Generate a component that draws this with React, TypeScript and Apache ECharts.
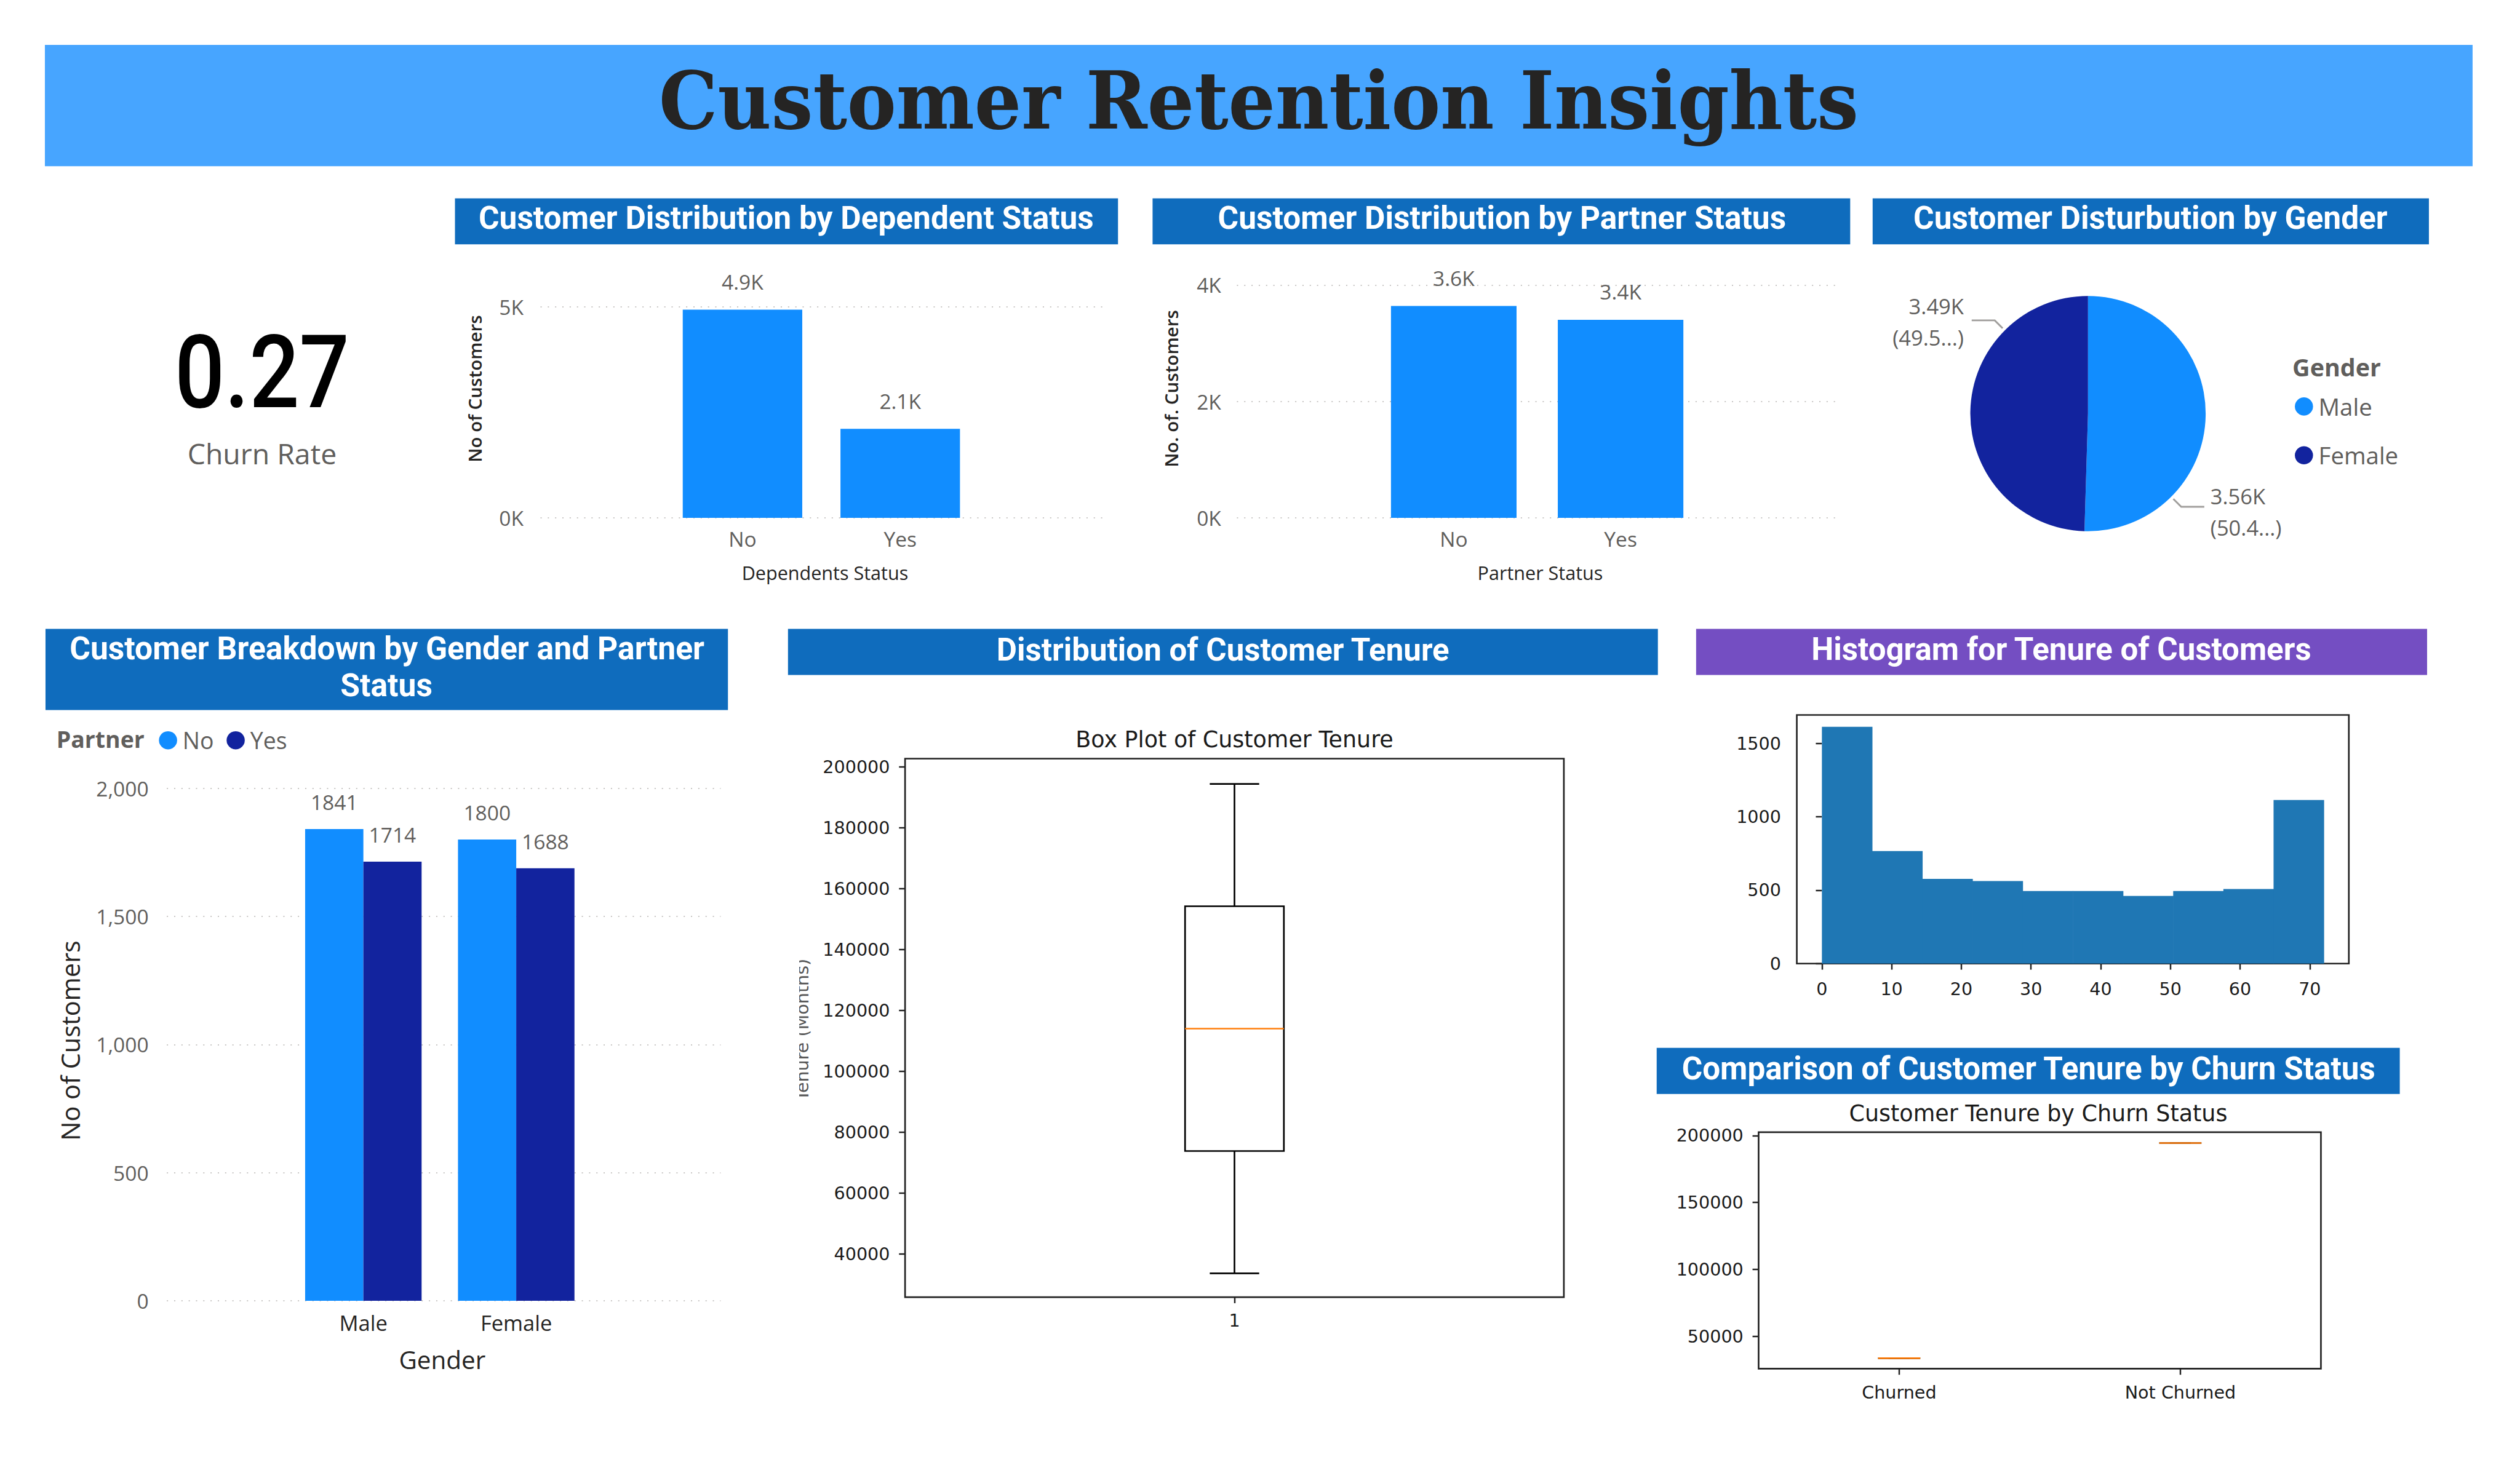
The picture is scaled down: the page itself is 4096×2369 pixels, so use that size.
import React, { useEffect, useRef } from 'react';
import * as echarts from 'echarts';

const S = 0.986;
const s = (v: number) => v * S;

// ---------------- Data ----------------
const churnRate = 0.27;
const dependentCategories = ['No', 'Yes'];
const dependentCounts = [4933, 2110];
const partnerCategories = ['No', 'Yes'];
const partnerCounts = [3641, 3402];
const genderNames = ['Male', 'Female'];
const genderCounts = [3555, 3488];
const genderCategories = ['Male', 'Female'];
const partnerNoByGender = [1841, 1800];
const partnerYesByGender = [1714, 1688];
const tenureBoxStats = [33600, 73800, 114000, 154200, 194400]; // min, q1, median, q3, max
const churnCategories = ['Churned', 'Not Churned'];
const churnTenureTotals = [33600, 194400];
const histEdges = [0, 7.2, 14.4, 21.6, 28.8, 36, 43.2, 50.4, 57.6, 64.8, 72];
const histCounts = [1612, 766, 577, 562, 494, 494, 461, 494, 508, 1114];
const histXTicks = [0, 10, 20, 30, 40, 50, 60, 70];
const histYTicks = [0, 500, 1000, 1500];
const tenureYTicks = [40000, 60000, 80000, 100000, 120000, 140000, 160000, 180000, 200000];
const churnYTicks = [50000, 100000, 150000, 200000];

// ---------------- Styles ----------------
const PBI = '"Segoe UI", "Open Sans", sans-serif';
const DIN = 'Roboto, sans-serif';
const MPL = '"DejaVu Sans", sans-serif';
const SERIF = '"DejaVu Serif", serif';
const C_LIGHT = '#118DFF';
const C_DARK = '#12239E';
const C_HEADER = '#47A5FF';
const C_BAR = '#0F6CBD';
const C_PURPLE = '#744EC2';
const C_GRAY = '#605E5C';
const C_TEXT = '#252423';
const C_GRID = '#C8C6C4';
const C_MPL = '#1a1a1a';

let measureCtx: CanvasRenderingContext2D | null = null;
function fit(text: string, font: string, target: number) {
  if (!measureCtx) measureCtx = document.createElement('canvas').getContext('2d');
  if (!measureCtx) return 1;
  measureCtx.font = font;
  const w = measureCtx.measureText(text).width;
  return w > 0 ? target / w : 1;
}

type TxtOpts = {
  family: string; weight?: string | number; color: string; align?: string;
  target?: number; scale?: number; rotation?: number; z?: number;
};
function txt(text: string, cx: number, cy: number, size: number, o: TxtOpts) {
  const weight = o.weight ?? 'normal';
  const font = `${weight} ${s(size)}px ${o.family}`;
  let scaleX = o.scale ?? 1;
  if (o.target) scaleX = fit(text, font, s(o.target));
  const align = o.align ?? 'center';
  return {
    type: 'text', x: s(cx), y: s(cy), rotation: o.rotation ?? 0, scaleX, scaleY: 1,
    z: o.z ?? 10, silent: true,
    style: {
      text, x: 0, y: 0, fill: o.color, font,
      align, verticalAlign: 'middle', textAlign: align, textVerticalAlign: 'middle',
    },
  };
}
function rect(x: number, y: number, w: number, h: number, fill: string, z = 5) {
  return { type: 'rect', z, silent: true, shape: { x: s(x), y: s(y), width: s(w), height: s(h) }, style: { fill } };
}
function titleBar(text: string, x: number, y: number, w: number, h: number, cx: number, cy: number, target: number, fill = C_BAR) {
  return [rect(x, y, w, h, fill), txt(text, cx, cy, 52, { family: DIN, weight: 'bold', color: '#fff', target })];
}

const gridLine = { show: true, lineStyle: { color: C_GRID, width: s(2), type: [s(2), s(10)] } };
const pbiAxisLabel = { color: C_GRAY, fontSize: s(34), fontFamily: PBI };
const mplTick = (values: number[]) => ({ show: true, inside: false, length: s(10), customValues: values, lineStyle: { color: '#222', width: s(2.5) } });
const mplLabel = (values: number[], margin: number, formatter?: (v: number) => string) => ({
  customValues: values, margin: s(margin), color: C_MPL, fontSize: s(29), fontFamily: MPL,
  ...(formatter ? { formatter } : {}),
});

function boxRender(_params: any, api: any) {
  const x = api.value(0);
  const lo = api.value(1), q1 = api.value(2), med = api.value(3), q3 = api.value(4), hi = api.value(5);
  const hw = 0.075, cw = 0.0375;
  const c = (a: number, b: number) => api.coord([a, b]);
  const line = (p1: number[], p2: number[], color: string) => ({
    type: 'line', shape: { x1: p1[0], y1: p1[1], x2: p2[0], y2: p2[1] },
    style: { stroke: color, lineWidth: s(2.7) },
  });
  const tl = c(x - hw, q3), br = c(x + hw, q1);
  return {
    type: 'group',
    children: [
      line(c(x, q3), c(x, hi), '#000'),
      line(c(x, q1), c(x, lo), '#000'),
      line(c(x - cw, hi), c(x + cw, hi), '#000'),
      line(c(x - cw, lo), c(x + cw, lo), '#000'),
      { type: 'rect', shape: { x: tl[0], y: tl[1], width: br[0] - tl[0], height: br[1] - tl[1] }, style: { fill: 'none', stroke: '#000', lineWidth: s(2.7) } },
      line(c(x - hw, med), c(x + hw, med), '#FF7F0E'),
    ],
  };
}

function histRender(_params: any, api: any) {
  const a = api.coord([api.value(0), api.value(2)]);
  const b = api.coord([api.value(1), 0]);
  return { type: 'rect', shape: { x: a[0], y: a[1], width: b[0] - a[0] + 0.6, height: b[1] - a[1] }, style: { fill: '#1F77B4' } };
}

const PIE_CX = 3442, PIE_CY = 682, PIE_R = 194;

function buildOption() {
  const kpiTxt = churnRate.toFixed(2);
  const gpScale = fit('Customer Breakdown by Gender and Partner', `bold ${s(52)}px ${DIN}`, s(1047));

  const graphic: any[] = [
    rect(74, 74, 4002, 200, C_HEADER, 1),
    txt('Customer Retention Insights', 2075, 166, 131, { family: SERIF, weight: 'bold', color: C_TEXT, target: 1977 }),
    txt(kpiTxt, 432, 614, 168, { family: DIN, weight: 500, color: '#000', target: 288 }),
    txt('Churn Rate', 432, 747, 47, { family: PBI, color: C_GRAY, target: 246 }),
    ...titleBar('Customer Distribution by Dependent Status', 750, 327, 1093, 76, 1296, 360, 1014),
    ...titleBar('Customer Distribution by Partner Status', 1900, 327, 1150, 76, 2476, 360, 937),
    ...titleBar('Customer Disturbution by Gender', 3087, 327, 917, 76, 3545, 360, 782),
    rect(75, 1037, 1125, 134, C_BAR),
    txt('Customer Breakdown by Gender and Partner', 638, 1070, 52, { family: DIN, weight: 'bold', color: '#fff', scale: gpScale }),
    txt('Status', 637, 1130, 52, { family: DIN, weight: 'bold', color: '#fff', scale: gpScale }),
    ...titleBar('Distribution of Customer Tenure', 1299, 1037, 1434, 76, 2016, 1071, 748),
    ...titleBar('Histogram for Tenure of Customers', 2796, 1037, 1205, 76, 3398, 1070, 825, C_PURPLE),
    ...titleBar('Comparison of Customer Tenure by Churn Status', 2731, 1728, 1225, 76, 3344, 1762, 1144),
    // axis titles
    txt('No of Customers', 782, 641, 30, { family: PBI, weight: 600, color: C_TEXT, rotation: Math.PI / 2 }),
    txt('Dependents Status', 1360, 944, 31, { family: PBI, color: C_TEXT }),
    txt('No. of. Customers', 1931, 641, 30, { family: PBI, weight: 600, color: C_TEXT, rotation: Math.PI / 2 }),
    txt('Partner Status', 2539, 944, 31, { family: PBI, color: C_TEXT }),
    txt('No of Customers', 116, 1716, 42, { family: PBI, color: C_TEXT, rotation: Math.PI / 2 }),
    txt('Gender', 729, 2242, 41, { family: PBI, color: C_TEXT }),
    // legend titles
    txt('Partner', 93, 1219, 38, { family: PBI, weight: 'bold', color: C_GRAY, align: 'left' }),
    txt('Gender', 3779, 605, 40, { family: PBI, weight: 'bold', color: C_GRAY, align: 'left' }),
    // matplotlib titles
    txt('Box Plot of Customer Tenure', 2035, 1220, 37, { family: MPL, color: C_MPL }),
    txt('Customer Tenure by Churn Status', 3360, 1836, 37, { family: MPL, color: C_MPL }),
    txt('Tenure (Months)', 1323, 1698, 29, { family: MPL, color: '#555', rotation: Math.PI / 2, z: 10 }),
    rect(1280, 1550, 37.5, 300, '#ffffff', 20),
  ];

  const grids = [
    { left: s(891), top: s(506), width: s(927), height: s(348) },
    { left: s(1094), top: s(506), width: s(520), height: s(348) },
    { left: s(2039), top: s(470), width: s(992), height: s(384) },
    { left: s(2259), top: s(470), width: s(550), height: s(384) },
    { left: s(275), top: s(1300), width: s(913), height: s(845) },
    { left: s(473), top: s(1300), width: s(504), height: s(845) },
    { left: s(1492), top: s(1251), width: s(1086), height: s(888), show: true, borderColor: '#222', borderWidth: s(2.7), backgroundColor: 'transparent' },
    { left: s(2962), top: s(1179), width: s(910), height: s(410), show: true, borderColor: '#222', borderWidth: s(2.7), backgroundColor: 'transparent' },
    { left: s(2899), top: s(1867), width: s(927), height: s(390), show: true, borderColor: '#222', borderWidth: s(2.7), backgroundColor: 'transparent' },
  ];

  const hiddenCat = (gridIndex: number) => ({ gridIndex, type: 'category', data: [''], show: false });
  const pbiCat = (gridIndex: number, data: string[], label: any) => ({
    gridIndex, type: 'category', data, axisLine: { show: false }, axisTick: { show: false }, axisLabel: label, splitLine: { show: false },
  });
  const hiddenVal = (gridIndex: number, min: number, max: number) => ({ gridIndex, type: 'value', min, max, show: false, splitLine: { show: false } });
  const pbiVal = (gridIndex: number, min: number, max: number, interval: number, formatter: (v: number) => string, margin: number) => ({
    gridIndex, type: 'value', min, max, interval, axisLine: { show: false }, axisTick: { show: false },
    splitLine: gridLine, axisLabel: { ...pbiAxisLabel, formatter, margin: s(margin) },
  });

  const xAxis = [
    hiddenCat(0),
    pbiCat(1, dependentCategories, { ...pbiAxisLabel, margin: s(17) }),
    hiddenCat(2),
    pbiCat(3, partnerCategories, { ...pbiAxisLabel, margin: s(17) }),
    hiddenCat(4),
    pbiCat(5, genderCategories, { color: C_TEXT, fontSize: s(35), fontFamily: PBI, margin: s(18) }),
    { gridIndex: 6, type: 'value', min: 0.5, max: 1.5, axisLine: { show: false }, splitLine: { show: false }, axisTick: mplTick([1]), axisLabel: mplLabel([1], 24, (v) => String(v)) },
    { gridIndex: 7, type: 'value', min: -3.6, max: 75.6, axisLine: { show: false }, splitLine: { show: false }, axisTick: mplTick(histXTicks), axisLabel: mplLabel(histXTicks, 27, (v) => String(v)) },
    { gridIndex: 8, type: 'value', min: 0.5, max: 2.5, axisLine: { show: false }, splitLine: { show: false }, axisTick: mplTick([1, 2]), axisLabel: mplLabel([1, 2], 24, (v) => churnCategories[Math.round(v) - 1] ?? '') },
  ];

  const kFmt = (v: number) => `${v / 1000}K`;
  const yAxis = [
    pbiVal(0, 0, 5000, 5000, kFmt, 28),
    hiddenVal(1, 0, 5000),
    pbiVal(2, 0, 4000, 2000, kFmt, 26),
    hiddenVal(3, 0, 4000),
    pbiVal(4, 0, 2000, 500, (v) => v.toLocaleString('en-US'), 30),
    hiddenVal(5, 0, 2000),
    { gridIndex: 6, type: 'value', min: 25800, max: 202700, axisLine: { show: false }, splitLine: { show: false }, axisTick: mplTick(tenureYTicks), axisLabel: mplLabel(tenureYTicks, 25, (v) => String(v)) },
    { gridIndex: 7, type: 'value', min: 0, max: 1693, axisLine: { show: false }, splitLine: { show: false }, axisTick: mplTick(histYTicks), axisLabel: mplLabel(histYTicks, 26, (v) => String(v)) },
    { gridIndex: 8, type: 'value', min: 25800, max: 202500, axisLine: { show: false }, splitLine: { show: false }, axisTick: mplTick(churnYTicks), axisLabel: mplLabel(churnYTicks, 25, (v) => String(v)) },
  ];

  const barLabel = (formatter: any, distance = 25) => ({ show: true, position: 'top', distance: s(distance), formatter, ...pbiAxisLabel });

  const series: any[] = [
    { type: 'bar', name: 'Dependents', xAxisIndex: 1, yAxisIndex: 1, data: dependentCounts, barWidth: s(197), itemStyle: { color: C_LIGHT }, label: barLabel((p: any) => `${(p.value / 1000).toFixed(1)}K`, 29), silent: true },
    { type: 'bar', name: 'PartnerCount', xAxisIndex: 3, yAxisIndex: 3, data: partnerCounts, barWidth: s(207), itemStyle: { color: C_LIGHT }, label: barLabel((p: any) => `${(p.value / 1000).toFixed(1)}K`, 29), silent: true },
    { type: 'bar', name: 'No', xAxisIndex: 5, yAxisIndex: 5, data: partnerNoByGender, barWidth: s(96), barGap: '0%', itemStyle: { color: C_LIGHT }, label: barLabel('{c}', 27), silent: true },
    { type: 'bar', name: 'Yes', xAxisIndex: 5, yAxisIndex: 5, data: partnerYesByGender, barWidth: s(96), barGap: '0%', itemStyle: { color: C_DARK }, label: barLabel('{c}', 27), silent: true },
    {
      type: 'pie', name: 'Gender', center: [s(PIE_CX), s(PIE_CY)], radius: s(PIE_R), startAngle: 90, clockwise: true,
      avoidLabelOverlap: false, silent: true, emphasis: { disabled: true },
      itemStyle: { borderWidth: 0 },
      data: genderNames.map((n, i) => ({ name: n, value: genderCounts[i], itemStyle: { color: i === 0 ? C_LIGHT : C_DARK } })),
      label: {
        show: true, position: 'outside', color: C_GRAY, fontSize: s(35), lineHeight: s(52), fontFamily: PBI,
        formatter: (p: any) => `${(Math.round(p.value / 10) / 100).toFixed(2)}K\n(${String(p.percent).slice(0, 4)}...)`,
      },
      labelLine: { show: true, smooth: false, lineStyle: { color: '#A19F9D', width: s(3) } },
      labelLayout: (params: any) => {
        const dir = params.dataIndex === 0 ? 1 : -1;
        const cx = s(PIE_CX), cy = s(PIE_CY), r = s(PIE_R + 5);
        const p0 = [cx + dir * r * Math.SQRT1_2, cy + dir * r * Math.SQRT1_2];
        const p1 = [p0[0] + dir * s(13), p0[1] + dir * s(13)];
        const p2 = [p1[0] + dir * s(38), p1[1]];
        return {
          x: p2[0] + dir * (dir > 0 ? s(10) : s(13)),
          y: p1[1] + (dir > 0 ? s(8) : s(2)),
          align: dir > 0 ? 'left' : 'right', verticalAlign: 'middle',
          labelLinePoints: [p0, p1, p2],
        };
      },
    },
    { type: 'custom', name: 'TenureBox', xAxisIndex: 6, yAxisIndex: 6, data: [[1, ...tenureBoxStats]], renderItem: boxRender, silent: true, z: 3 },
    { type: 'custom', name: 'TenureHist', xAxisIndex: 7, yAxisIndex: 7, data: histCounts.map((c, i) => [histEdges[i], histEdges[i + 1], c]), renderItem: histRender, silent: true, z: 1 },
    { type: 'custom', name: 'ChurnBox', xAxisIndex: 8, yAxisIndex: 8, data: churnTenureTotals.map((v, i) => [i + 1, v, v, v, v, v]), renderItem: boxRender, silent: true, z: 3 },
  ];

  const legendText = (size: number) => ({ color: C_GRAY, fontSize: s(size), fontFamily: PBI, lineHeight: s(30), padding: [0, 0, 0, s(4)] });
  const legend = [
    { data: ['No', 'Yes'], left: s(262), top: s(1202), orient: 'horizontal', icon: 'circle', itemWidth: s(30), itemHeight: s(30), itemGap: s(21), padding: 0, selectedMode: false, textStyle: legendText(38) },
    { data: ['Male', 'Female'], left: s(3783), top: s(651), orient: 'vertical', icon: 'circle', itemWidth: s(30), itemHeight: s(30), itemGap: s(42), padding: 0, selectedMode: false, textStyle: legendText(39) },
  ];

  return {
    animation: false,
    backgroundColor: '#ffffff',
    textStyle: { fontFamily: PBI },
    grid: grids,
    xAxis,
    yAxis,
    series,
    legend,
    graphic: { elements: graphic },
  };
}

export default function App() {
  const ref = useRef<HTMLDivElement>(null);
  useEffect(() => {
    if (!ref.current) return;
    const chart = echarts.init(ref.current, undefined, { renderer: 'svg' });
    chart.setOption(buildOption() as any);
    return () => chart.dispose();
  }, []);
  return <div ref={ref} style={{ position: 'fixed', left: 0, top: 0, width: 4096, height: 2369, background: '#fff' }} />;
}
